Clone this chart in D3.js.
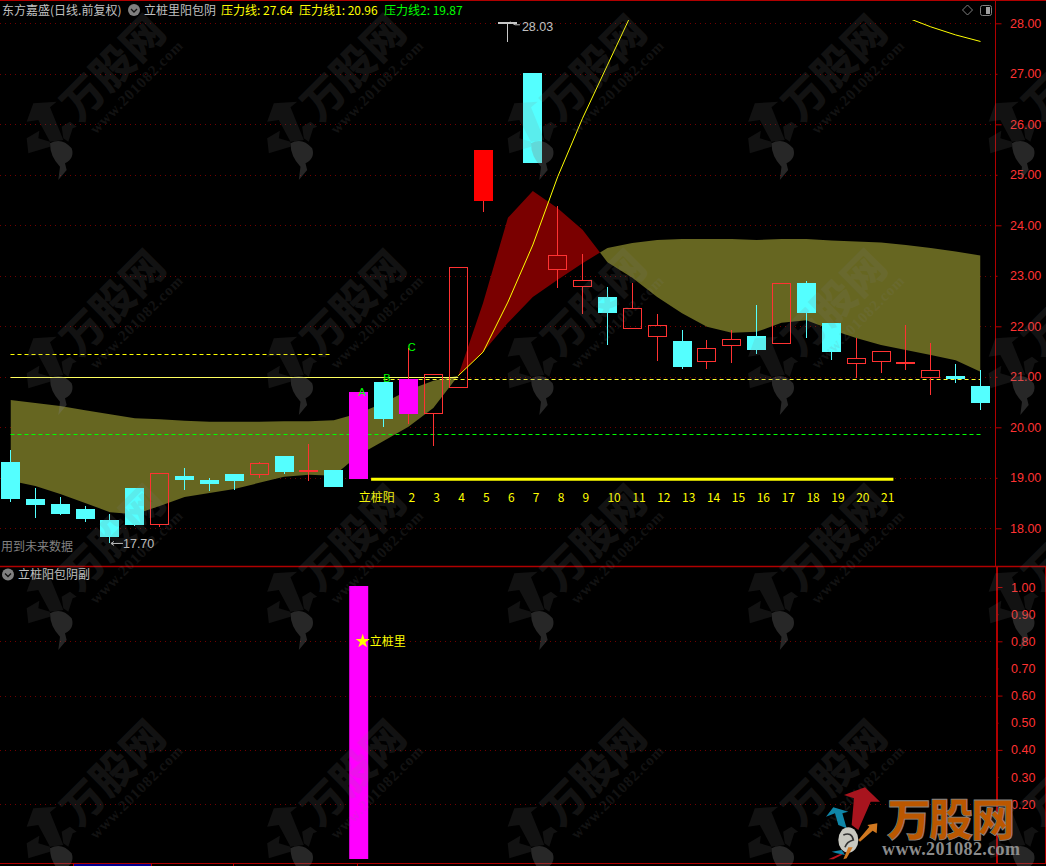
<!DOCTYPE html>
<html><head><meta charset="utf-8">
<style>html,body{margin:0;padding:0;background:#000;overflow:hidden}svg{display:block}</style>
<script src="https://cdn.jsdelivr.net/npm/d3@7"></script></head><body><div id="c"></div>
<script>
const opens  =[19.31,18.58,18.48,18.38,18.16,18.80,18.06,19.04,18.96,19.08,19.06,19.43,19.13,19.15,18.98,20.90,20.26,20.27,20.78,24.48,28.03,27.02,23.12,22.78,22.58,21.95,21.79,21.71,21.30,21.60,21.81,21.64,22.86,22.07,21.26,21.30,21.26,20.98,21.02,20.82];
const closes =[18.59,18.46,18.28,18.18,17.83,18.07,19.09,18.96,18.88,18.94,19.29,19.11,19.16,18.82,20.70,20.16,20.96,21.05,23.17,25.49,28.03,25.23,23.41,22.91,22.26,22.36,22.02,21.19,21.58,21.74,21.53,22.85,22.26,21.49,21.37,21.52,21.29,21.13,20.95,20.48];
const highs  =[19.55,18.79,18.62,18.44,18.28,18.80,19.09,19.19,19.00,19.08,19.32,19.43,19.67,19.15,20.70,20.90,21.57,21.05,23.17,25.49,28.03,27.02,24.38,23.43,22.78,22.85,22.24,21.93,21.73,21.93,22.42,22.85,22.90,22.07,21.77,21.52,22.03,21.66,21.25,21.13];
const lows   =[18.53,18.21,18.26,18.12,17.70,18.05,18.02,18.76,18.74,18.76,19.00,19.08,18.94,18.82,18.98,20.01,20.07,19.62,20.78,24.26,27.63,25.23,22.76,22.24,21.63,21.95,21.31,21.15,21.15,21.27,21.45,21.64,21.77,21.33,20.98,21.08,21.13,20.64,20.88,20.34];
const bandA  =[18.94,18.84,18.68,18.50,18.32,18.28,18.44,18.62,18.70,18.78,18.90,19.02,19.06,19.04,19.45,19.73,20.01,20.38,21.02,22.46,24.15,24.68,24.34,23.91,23.27,22.96,22.58,22.26,21.99,21.87,21.89,22.07,22.12,21.93,21.77,21.63,21.53,21.43,21.33,21.10];
const bandB  =[20.54,20.48,20.42,20.34,20.26,20.18,20.16,20.13,20.11,20.11,20.11,20.12,20.12,20.14,20.28,20.48,20.74,20.92,21.02,21.49,22.07,22.58,22.92,23.25,23.55,23.65,23.71,23.73,23.73,23.73,23.71,23.73,23.73,23.70,23.68,23.66,23.61,23.55,23.48,23.40];
const curve  =[null,null,null,null,null,null,null,null,null,null,null,null,null,null,null,null,null,null,21.02,21.49,22.48,23.61,24.96,26.12,27.17,28.22,null,null,null,null,null,null,null,null,null,null,28.12,27.93,27.77,27.64];
const magentaDays=[14,16];
const solidRedDays=[19];
const greyDays=[20];
const stakeStart=14, stakeEnd=35, stakeLevel=18.97;
const dayLabels=["立桩阳","2","3","4","5","6","7","8","9","10","11","12","13","14","15","16","17","18","19","20","21"];
const dayLabelDays=[14,16,17,18,19,20,21,22,23,24,25,26,27,28,29,30,31,32,33,34,35];
const priceTicks=[18,19,20,21,22,23,24,25,26,27,28];
const subTicks=[0.2,0.3,0.4,0.5,0.6,0.7,0.8,0.9,1.0];
const subGrid=[0.2,0.4,0.6,0.8];
const subBarDay=14, subBarValue=1.0, subStarValue=0.8;
const pressureSolid=21.00, pressureSolidEnd=18;
const pressureUpper=21.45, pressureUpperEnd=13;
const pressure1=20.96, pressure2=19.87;
const legendNames=["压力线: 27.64","压力线1: 20.96","压力线2: 19.87"];
const legendColors=["#ffff00","#ffff00","#00ff00"];
const abc=[["A",14,20.70],["B",15,20.90],["C",16,21.57]];

const W=1046,H=866,CJK='"Noto Sans CJK SC"',LAT='"Liberation Sans",Arial,sans-serif';
const svg=d3.select("#c").append("svg").attr("width",W).attr("height",H).style("background","#000");
const x=d3.scaleLinear().domain([0,39]).range([10.5,980.5]);
const y=d3.scaleLinear().domain([18,28]).range([528.3,23.3]);
const ys=d3.scaleLinear().domain([0,1]).range([858.5,587]);
const GRID="#700000",RED="#ff3232",CY="#54ffff",MG="#ff00ff",FR="#b00000",OL="#666621",DR="#7a0000";
const px=v=>Math.round(v)+.5;
const defs=svg.append("defs");
const idx=d3.range(40);

// grid
const grid=svg.append("g").attr("stroke",GRID).attr("stroke-dasharray","1 4").attr("shape-rendering","crispEdges");
grid.selectAll(".a").data(priceTicks).join("line").attr("class","a").attr("x1",0).attr("x2",995).attr("y1",d=>px(y(d))).attr("y2",d=>px(y(d)));
grid.selectAll(".b").data(subGrid).join("line").attr("class","b").attr("x1",0).attr("x2",995).attr("y1",d=>px(ys(d))).attr("y2",d=>px(ys(d)));

// band (difference chart)
const bandTop=0,bandBot=560;
const belowA=d3.area().x(i=>x(i)).y0(bandBot).y1(i=>y(bandA[i]));
const aboveA=d3.area().x(i=>x(i)).y0(bandTop).y1(i=>y(bandA[i]));
const belowB=d3.area().x(i=>x(i)).y0(bandBot).y1(i=>y(bandB[i]));
const aboveB=d3.area().x(i=>x(i)).y0(bandTop).y1(i=>y(bandB[i]));
defs.append("clipPath").attr("id","cBelowA").append("path").attr("d",belowA(idx));
defs.append("clipPath").attr("id","cBelowB").append("path").attr("d",belowB(idx));
svg.append("path").attr("d",aboveB(idx)).attr("fill",DR).attr("clip-path","url(#cBelowA)");
svg.append("path").attr("d",aboveA(idx)).attr("fill",OL).attr("clip-path","url(#cBelowB)");

// pressure lines
const hl=(v,a,b,c,dash)=>svg.append("line").attr("x1",x(a)).attr("x2",x(b)).attr("y1",px(y(v))).attr("y2",px(y(v))).attr("stroke",c).attr("stroke-dasharray",dash);
hl(pressureUpper,0,pressureUpperEnd-0.1,"#ffff00","4 3");
hl(pressure2,0,39,"#00ff00","4 3");
hl(pressure1,15,39,"#ffff30","4 3");
hl(pressureSolid,0,pressureSolidEnd,"#ffff60",null);

// candles
const cg=svg.append("g");
idx.forEach(i=>{
  const up=closes[i]>=opens[i];
  const mag=magentaDays.includes(i),solid=solidRedDays.includes(i),grey=greyDays.includes(i);
  const cx=Math.round(x(i)-.5)+.5;
  const t=Math.round(y(Math.max(opens[i],closes[i]))), b=Math.round(y(Math.min(opens[i],closes[i])));
  const col=grey?"#c8c8c8":(up?RED:CY);
  const wick=(a,c)=>{if(c-a>=1)cg.append("line").attr("x1",cx).attr("x2",cx).attr("y1",a).attr("y2",c).attr("stroke",col)};
  wick(Math.round(y(highs[i])),t);
  wick(b,Math.round(y(lows[i])));
  const L=cx-9.5,w=19;
  if(b-t<=2){cg.append("rect").attr("x",L).attr("y",t).attr("width",w).attr("height",2).attr("fill",col);}
  else if(mag||solid||!up){cg.append("rect").attr("x",L).attr("y",t).attr("width",w).attr("height",b-t).attr("fill",mag?MG:(solid?"#ff0000":CY));}
  else{cg.append("rect").attr("x",L+.5).attr("y",t+.5).attr("width",w-1).attr("height",b-t-1).attr("fill","none").attr("stroke",RED);}
});

// yellow curve, clipped under the header
defs.append("clipPath").attr("id","cTop").append("rect").attr("x",0).attr("y",20).attr("width",996).attr("height",540);
svg.append("path").attr("d",d3.line().defined(i=>curve[i]!=null).x(i=>x(i)).y(i=>y(curve[i]))(idx))
  .attr("fill","none").attr("stroke","#ffff00").attr("clip-path","url(#cTop)");

// stake line and counters
svg.append("line").attr("x1",x(stakeStart)+12.4).attr("x2",x(stakeEnd)+12.4).attr("y1",y(stakeLevel)).attr("y2",y(stakeLevel)).attr("stroke","#ffff00").attr("stroke-width",3);
svg.append("g").selectAll("text").data(dayLabels).join("text").attr("x",(d,i)=>x(dayLabelDays[i])).attr("y",501.5)
  .attr("fill","#ffff00").attr("font-size",12).attr("font-family",CJK).text(d=>d);
svg.append("g").selectAll("text").data(abc).join("text").attr("x",d=>x(d[1])+3.3).attr("y",d=>y(d[2])+(d[0]=="A"?4:d[0]=="B"?0:2.5))
  .attr("text-anchor","middle").attr("fill","#00ff00").attr("font-size",11).attr("font-family",LAT).text(d=>d[0]);

// extreme labels
const grey="#c0c0c0";
svg.append("path").attr("d",`M${x(4)+1},${y(17.70)}h12M${x(4)+1},${y(17.70)}l3,-2M${x(4)+1},${y(17.70)}l3,2`).attr("stroke",grey).attr("fill","none");
svg.append("text").attr("x",x(4)+13).attr("y",y(17.70)+5).attr("fill",grey).attr("font-size",12.5).attr("font-family",LAT).text("17.70");
svg.append("path").attr("d",`M${x(20)+2},${y(28.03)}l5,3h5`).attr("stroke",grey).attr("fill","none");
svg.append("text").attr("x",x(20)+14).attr("y",31).attr("fill",grey).attr("font-size",12.5).attr("font-family",LAT).text("28.03");
svg.append("text").attr("x",1).attr("y",551).attr("fill","#808080").attr("font-size",12).attr("font-family",CJK).text("用到未来数据");

// sub pane
svg.append("rect").attr("x",x(subBarDay)-9.5).attr("y",ys(subBarValue)-1).attr("width",19).attr("height",ys(0)-ys(subBarValue)+1.5).attr("fill",MG);
svg.append("path").attr("d",d3.symbol(d3.symbolStar,62)()).attr("transform",`translate(${x(subBarDay)+4},${ys(subStarValue)})`).attr("fill","#ffff00");
svg.append("text").attr("x",x(subBarDay)+11).attr("y",ys(subStarValue)+4.5).attr("fill","#ffff00").attr("font-size",12).attr("font-family",CJK).text("立桩里");

// axes
function axis(scale,vals,tx,longTest){
  const g=svg.append("g").attr("transform",`translate(${tx},0)`).call(d3.axisRight(scale).tickValues(vals).tickFormat(d3.format(".2f")).tickSize(5).tickPadding(10));
  g.select(".domain").remove();
  g.selectAll("line").attr("stroke",FR).attr("x2",d=>longTest(d)?6:2);
  g.selectAll("text").attr("fill",RED).attr("font-size",12.5).attr("font-family",LAT).attr("x",14.5);
  return g;
}
axis(y,priceTicks,995.5,d=>d%2==0);
axis(ys,subTicks,996.5,d=>Math.round(d*10)%2==0);

// frame
const f=svg.append("g").attr("stroke",FR);
f.append("line").attr("x1",0).attr("x2",W).attr("y1",.5).attr("y2",.5);
f.append("line").attr("x1",0).attr("x2",W).attr("y1",566.5).attr("y2",566.5).attr("stroke-width",1.5);
f.append("line").attr("x1",995.5).attr("x2",995.5).attr("y1",0).attr("y2",566);
f.append("line").attr("x1",997).attr("x2",997).attr("y1",566).attr("y2",863).attr("stroke-width",2);
f.append("line").attr("x1",1045.5).attr("x2",1045.5).attr("y1",566).attr("y2",863);
f.append("line").attr("x1",0).attr("x2",W).attr("y1",863.5).attr("y2",863.5);
f.selectAll(".t").data([73,151,233,357]).join("line").attr("class","t").attr("x1",d=>d+.5).attr("x2",d=>d+.5).attr("y1",863).attr("y2",866);
svg.append("rect").attr("x",74).attr("y",864).attr("width",77).attr("height",2).attr("fill","#00008b");

// header
const chev=(cx,cy)=>{svg.append("circle").attr("cx",cx).attr("cy",cy).attr("r",6).attr("fill","#808080");
  svg.append("path").attr("d",`M${cx-3},${cy-1}l3,3l3,-3`).attr("fill","none").attr("stroke","#111").attr("stroke-width",1.3);};
const tx=(s,xx,yy,c)=>svg.append("text").attr("x",xx).attr("y",yy).attr("fill",c).attr("font-size",12).attr("font-family",CJK).text(s);
tx("东方嘉盛(日线.前复权)",2,14.5,"#c0c0c0");
chev(134,10);
tx("立桩里阳包阴",144,14.5,"#c0c0c0");
svg.append("g").selectAll("text").data(legendNames).join("text").attr("x",(d,i)=>[221,299,384][i]).attr("y",14.5)
  .attr("fill",(d,i)=>legendColors[i]).attr("font-size",12).attr("font-family",CJK).text(d=>d);
chev(8,574.5);
tx("立桩阳包阴副",18,579,"#c0c0c0");
svg.append("path").attr("d","M967.5,5l5,5l-5,5l-5,-5z").attr("fill","none").attr("stroke","#808080");
svg.append("rect").attr("x",980.5).attr("y",5.5).attr("width",11).attr("height",10).attr("rx",2).attr("fill","none").attr("stroke","#808080");
svg.append("rect").attr("x",986).attr("y",7).attr("width",4).attr("height",7).attr("fill","#a0a0a0");

// watermark (semi-transparent, over the marks)
const wm=svg.append("g").attr("pointer-events","none");
d3.range(5).forEach(c=>d3.range(4).forEach(r=>{
  const g=wm.append("g").attr("transform",`translate(${c*240.5},${r*235})`);
  g.append("text").attr("transform","translate(113,68) rotate(-45)").attr("text-anchor","middle").attr("dy","0.36em")
    .attr("font-size",42).attr("font-weight",900).attr("font-family",CJK).attr("fill","#808080").attr("opacity",.14).text("万股网");
  g.append("text").attr("transform","translate(136,87) rotate(-45)").attr("text-anchor","middle").attr("dy","0.36em")
    .attr("font-size",15).attr("font-weight",700).attr("font-family",'"Liberation Serif",serif').attr("textLength",124).attr("fill","#808080").attr("opacity",.14).text("www.201082.com");
  const s=g.append("g").attr("transform","translate(0,10) scale(.3333)");
  s.append("path").attr("d","M80,335L100,280L170,275L150,292L190,390L150,395L115,330Z M185,350L210,335L230,350L218,355L205,395L190,385Z M80,385L118,362L115,385L150,395L150,410L85,430Z")
    .attr("fill","#808080").attr("opacity",.14);
  s.append("path").attr("d","M150,400Q185,380 215,415Q225,445 195,460L200,480L175,510L180,470Q150,440 150,400Z").attr("fill","#808080").attr("opacity",.3);
}));

// logo
const lg=svg.append("g");
lg.append("text").attr("x",951).attr("y",836).attr("text-anchor","middle").attr("font-size",44).attr("font-weight",900).attr("font-family",CJK)
  .attr("fill","#c25a00").attr("stroke","#8a8a8a").attr("stroke-width",.8).attr("textLength",128).attr("opacity",.97).text("万股网");
lg.append("text").attr("x",951).attr("y",855).attr("text-anchor","middle").attr("font-size",18).attr("font-weight",700).attr("font-family",'"Liberation Serif",serif')
  .attr("fill","#8c8c8c").attr("textLength",138).text("www.201082.com");
const ar=lg.append("g").attr("transform","translate(780,760) scale(.3333)");
ar.append("path").attr("d","M192,105L255,82L300,125L272,125L235,210L215,195L222,115Z").attr("fill","#a8141e");
ar.append("path").attr("d","M138,170L160,142L205,155L187,160L200,205L175,195L165,160Z").attr("fill","#0f86a8");
ar.append("path").attr("d","M235,240L268,200L262,195L292,190L290,220L278,212L240,245Z").attr("fill","#d07820");
ar.append("ellipse").attr("cx",205).attr("cy",240).attr("rx",30).attr("ry",38).attr("fill","#c8c8c0");
ar.append("path").attr("d","M190,225Q215,215 220,240Q200,245 195,262").attr("fill","none").attr("stroke","#333").attr("stroke-width",5);
ar.append("path").attr("d","M145,298L195,275L185,285L160,298Z").attr("fill","#b8141e");
ar.append("path").attr("d","M155,275L185,270L195,285L170,280Z").attr("fill","#0f86a8");
ar.append("path").attr("d","M190,298L205,262L218,262L200,295Z").attr("fill","#d07820");
</script></body></html>
